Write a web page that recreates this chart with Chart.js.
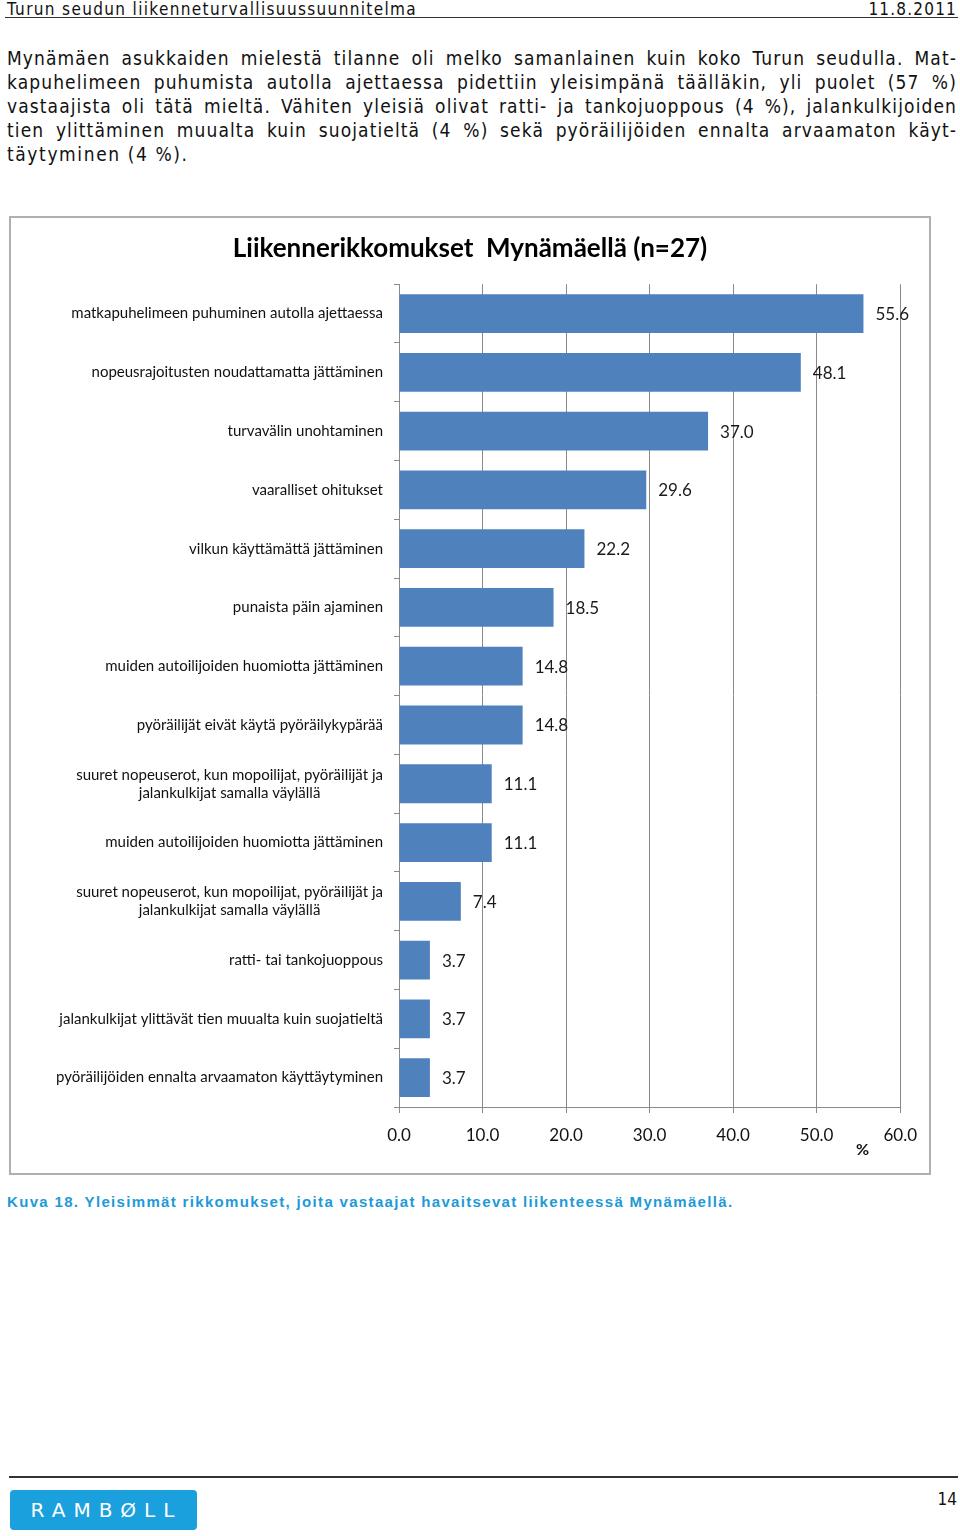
<!DOCTYPE html>
<html>
<head>
<meta charset="utf-8">
<script src="https://cdn.jsdelivr.net/npm/chart.js@4.4.1/dist/chart.umd.min.js"></script>
<style>
  body { margin: 0; width: 960px; height: 1536px; background: #fff; position: relative; overflow: hidden; }
  .narrow { font-family: 'Liberation Sans Narrow', 'DejaVu Sans Condensed', 'Liberation Sans', sans-serif; color: #111; }
  #header { position: absolute; left: 5px; top: 0; width: 953px; height: 17px; border-bottom: 1.5px solid #333; font-size: 17px; line-height: 18px; }
  #header .l { position: absolute; left: 2px; top: 0; letter-spacing: 1.35px; }
  #header .r { position: absolute; right: 1px; top: 0; letter-spacing: 1.2px; }
  #para { position: absolute; left: 7px; top: 46px; width: 950px; font-size: 19px; line-height: 24px; letter-spacing: 1.1px; }
  #para div { text-align: justify; text-align-last: justify; white-space: nowrap; }
  #para div.last { text-align-last: left; letter-spacing: 1.6px; }
  #box { position: absolute; left: 9px; top: 216px; width: 918px; height: 955px; border: 2px solid #b0b0b0; }
  #box canvas { position: absolute; left: 0; top: 0; }
  #caption { position: absolute; left: 7px; top: 1193px; font-family: 'Liberation Sans Narrow', 'Liberation Sans', sans-serif; font-weight: bold; font-size: 15px; letter-spacing: 1.33px; color: #1e9ad6; }
  #rule { position: absolute; left: 9px; top: 1476px; width: 949px; height: 2px; background: #333; }
  #logo { position: absolute; left: 10px; top: 1490px; width: 187px; height: 40px; border-radius: 4px; background: #1ba0de; color: #fff; font-family: 'DejaVu Sans', sans-serif; font-size: 20px; letter-spacing: 8px; line-height: 40px; text-align: center; text-indent: 6px; }
  #page { position: absolute; right: 3px; top: 1489px; font-size: 17px; }
</style>
</head>
<body>
<div id="header" class="narrow"><span class="l">Turun seudun liikenneturvallisuussuunnitelma</span><span class="r">11.8.2011</span></div>
<div id="para" class="narrow">
  <div>Mynämäen asukkaiden mielestä tilanne oli melko samanlainen kuin koko Turun seudulla. Mat-</div>
  <div>kapuhelimeen puhumista autolla ajettaessa pidettiin yleisimpänä täälläkin, yli puolet (57 %)</div>
  <div>vastaajista oli tätä mieltä. Vähiten yleisiä olivat ratti- ja tankojuoppous (4 %), jalankulkijoiden</div>
  <div>tien ylittäminen muualta kuin suojatieltä (4 %) sekä pyöräilijöiden ennalta arvaamaton käyt-</div>
  <div class="last">täytyminen (4 %).</div>
</div>
<div id="box"><canvas id="rikkomukset" width="918" height="955"></canvas></div>
<div id="caption">Kuva 18. Yleisimmät rikkomukset, joita vastaajat havaitsevat liikenteessä Mynämäellä.</div>
<div id="rule"></div>
<div id="logo">RAMBØLL</div>
<div id="page" class="narrow">14</div>

<script>
const kategoriat = [
    'matkapuhelimeen puhuminen autolla ajettaessa',
    'nopeusrajoitusten noudattamatta jättäminen',
    'turvavälin unohtaminen',
    'vaaralliset ohitukset',
    'vilkun käyttämättä jättäminen',
    'punaista päin ajaminen',
    'muiden autoilijoiden huomiotta jättäminen',
    'pyöräilijät eivät käytä pyöräilykypärää',
    ['suuret nopeuserot, kun mopoilijat, pyöräilijät ja', 'jalankulkijat samalla väylällä'],
    'muiden autoilijoiden huomiotta jättäminen',
    ['suuret nopeuserot, kun mopoilijat, pyöräilijät ja', 'jalankulkijat samalla väylällä'],
    'ratti- tai tankojuoppous',
    'jalankulkijat ylittävät tien muualta kuin suojatieltä',
    'pyöräilijöiden ennalta arvaamaton käyttäytyminen'
];
const osuudet = [55.6, 48.1, 37.0, 29.6, 22.2, 18.5, 14.8, 14.8, 11.1, 11.1, 7.4, 3.7, 3.7, 3.7];
const akseliMin = 0;
const akseliMax = 60;
const akseliVali = 10;

const FONT = "Lato, 'Open Sans', sans-serif";
const GRID = '#8a8a8a';

// arvot palkkien päähän
const arvoTekstit = {
    id: 'arvoTekstit',
    afterDatasetsDraw(chart) {
        const ctx = chart.ctx;
        const meta = chart.getDatasetMeta(0);
        ctx.save();
        ctx.font = '17px ' + FONT;
        ctx.fillStyle = '#1a1a1a';
        ctx.textAlign = 'left';
        ctx.textBaseline = 'middle';
        meta.data.forEach((bar, i) => {
            ctx.fillText(osuudet[i].toFixed(1), bar.x + 12, bar.y + 1);
        });
        ctx.restore();
    }
};

// luokkien nimet: monirivinen teksti keskitetään kuten Excelissä
const luokkaTekstit = {
    id: 'luokkaTekstit',
    afterDraw(chart) {
        const ctx = chart.ctx;
        const y = chart.scales.y;
        const oikea = y.right - 16;
        const rivi = 18;
        ctx.save();
        ctx.font = '15px ' + FONT;
        ctx.fillStyle = '#111';
        ctx.textBaseline = 'middle';
        kategoriat.forEach((nimi, i) => {
            const keski = y.getPixelForValue(i);
            if (Array.isArray(nimi)) {
                const leveys = Math.max(...nimi.map(t => ctx.measureText(t).width));
                ctx.textAlign = 'center';
                nimi.forEach((t, j) => {
                    ctx.fillText(t, oikea - leveys / 2, keski + (j - (nimi.length - 1) / 2) * rivi);
                });
            } else {
                ctx.textAlign = 'right';
                ctx.fillText(nimi, oikea, keski);
            }
        });
        ctx.restore();
    }
};

// '%' akselin alle
const prosenttiMerkki = {
    id: 'prosenttiMerkki',
    afterDraw(chart) {
        const ctx = chart.ctx;
        const x = chart.scales.x.getPixelForValue(55.5);
        ctx.save();
        ctx.font = 'bold 16px ' + FONT;
        ctx.fillStyle = '#111';
        ctx.textAlign = 'center';
        ctx.textBaseline = 'middle';
        ctx.fillText('%', x, chart.chartArea.bottom + 43);
        ctx.restore();
    }
};

const ctx = document.getElementById('rikkomukset');
new Chart(ctx, {
    type: 'bar',
    data: {
        labels: kategoriat,
        datasets: [{
            data: osuudet,
            backgroundColor: '#4f81bd',
            borderWidth: 0,
            barPercentage: 0.66,
            categoryPercentage: 1.0
        }]
    },
    options: {
        indexAxis: 'y',
        responsive: false,
        animation: false,
        layout: {
            padding: { left: 27, right: 27, top: 0, bottom: 0 }
        },
        scales: {
            x: {
                min: akseliMin,
                max: akseliMax,
                afterFit: function(scale) { scale.height = 66; },
                ticks: {
                    stepSize: akseliVali,
                    padding: 12,
                    color: '#111',
                    font: { family: FONT, size: 17 },
                    callback: function(value) { return value.toFixed(1); }
                },
                grid: { color: GRID, lineWidth: 1, tickLength: 6 },
                border: { color: GRID, width: 1 }
            },
            y: {
                afterFit: function(scale) { scale.width = 361; },
                ticks: { display: false },
                grid: { offset: true, drawOnChartArea: false, color: GRID, tickLength: 5 },
                border: { color: GRID, width: 1 }
            }
        },
        plugins: {
            legend: { display: false },
            tooltip: { enabled: false },
            title: {
                display: true,
                text: 'Liikennerikkomukset  Mynämäellä (n=27)',
                color: '#000',
                font: { family: FONT, size: 26, weight: 'bold' },
                padding: { top: 15, bottom: 20 }
            }
        }
    },
    plugins: [arvoTekstit, luokkaTekstit, prosenttiMerkki]
});
</script>
</body>
</html>
